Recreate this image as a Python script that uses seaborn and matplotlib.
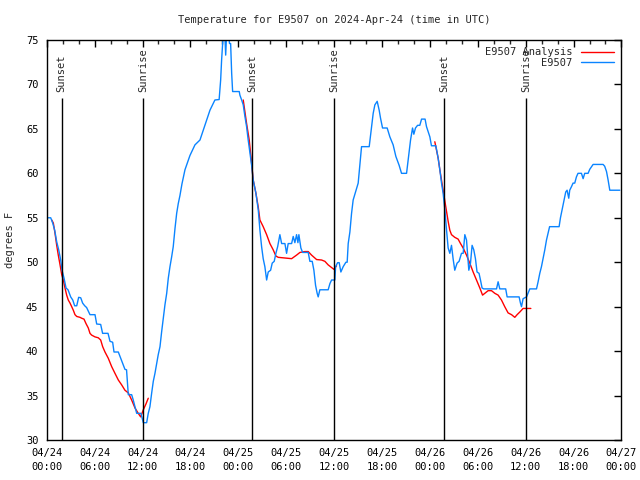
import pandas as pd
import numpy as np
import seaborn as sns
import matplotlib
matplotlib.use('Agg')
import matplotlib.pyplot as plt
import matplotlib.dates as mdates
from matplotlib.lines import Line2D

# hours since 2024-04-24 00:00 UTC, temperatures in degrees F
station_hours = [0, 0.5, 0.75, 1.0, 1.25, 1.5, 1.75, 1.92, 2.17, 2.42, 2.67, 3.0, 3.26, 3.5, 3.76, 4.0,
                 4.26, 4.5, 4.76, 5.0, 5.42, 6.05, 6.26, 6.76, 7.0, 7.68, 7.93, 8.26, 8.43, 8.97, 9.18,
                 9.52, 9.8, 10.0, 10.1, 10.22, 10.64, 10.84, 11.27, 11.8, 12.1, 12.52, 12.72, 12.93,
                 13.15, 13.35, 13.56, 13.77, 13.97, 14.19, 14.4, 14.6, 14.81, 15.03, 15.23, 15.44,
                 15.65, 15.85, 16.07, 16.28, 16.48, 16.69, 16.94, 17.32, 17.94, 18.57, 19.2, 19.82,
                 20.45, 21.07, 21.6, 21.79, 21.91, 22.04, 22.1, 22.3, 22.42, 22.55, 22.75, 22.9,
                 23.04, 23.17, 23.29, 24.12, 24.2, 24.42, 24.62, 24.83, 25.04, 25.24, 25.46, 25.67,
                 25.87, 26.21, 26.5, 26.71, 26.92, 27.12, 27.33, 27.55, 27.75, 28.05, 28.25, 28.5,
                 28.71, 28.93, 29.21, 29.43, 29.84, 30.05, 30.25, 30.68, 30.88, 31.09, 31.3, 31.47,
                 31.59, 31.84, 32.06, 32.76, 32.97, 33.26, 33.47, 33.68, 33.88, 34.01, 34.22, 35.26,
                 35.48, 35.69, 36.1, 36.19, 36.44, 36.64, 36.85, 37.14, 37.48, 37.64, 37.77, 37.98,
                 38.19, 38.39, 39.02, 39.44, 40.4, 40.7, 40.9, 41.11, 41.4, 41.65, 41.82, 42.07,
                 42.65, 42.99, 43.4, 43.74, 44.15, 44.45, 45.08, 45.28, 45.58, 45.83, 45.99, 46.2,
                 46.46, 46.74, 46.96, 47.4, 47.58, 48.0, 48.2, 48.75, 49.04, 49.25, 49.46, 49.66,
                 49.87, 50.09, 50.29, 50.5, 50.71, 50.91, 51.12, 51.41, 51.66, 51.96, 52.17, 52.38,
                 52.59, 52.72, 52.88, 53.09, 53.29, 53.5, 53.71, 53.91, 54.16, 54.34, 54.54, 54.75,
                 56.35, 56.55, 56.76, 57.5, 57.68, 59.18, 59.35, 59.48, 59.68, 60.11, 60.52, 61.36,
                 61.56, 61.77, 61.98, 62.18, 62.4, 62.61, 62.81, 63.0, 64.19, 64.36, 64.61, 64.81,
                 65.02, 65.19, 65.4, 65.52, 65.74, 65.94, 66.15, 66.36, 66.56, 66.99, 67.2, 67.4,
                 67.82, 68.03, 68.45, 69.7, 69.9, 70.13, 70.33, 70.54, 71.79]
station_temps = [55, 55, 54.4, 53.6, 52.3, 51.4, 50.25, 49.1, 48.2, 47.1, 46.9, 46.1, 45.75, 45.1, 45.1, 46.05,
                 46, 45.4, 45.1, 44.9, 44.1, 44.1, 43.05, 43, 42.0, 42, 41.1, 41, 39.9, 39.9, 39.4,
                 38.6, 37.95, 37.9, 36.6, 35.1, 35.1, 34.5, 33.0, 33, 31.95, 31.95, 33, 33.75,
                 35.3, 36.6, 37.5, 38.6, 39.6, 40.5, 42.2, 43.7, 45.2, 46.5, 48.2, 49.5,
                 50.6, 51.75, 53.8, 55.5, 56.6, 57.5, 58.8, 60.4, 62, 63.2, 63.75, 65.4,
                 67.1, 68.25, 68.3, 70.5, 72.75, 74.6, 76, 76, 73.3, 76, 76, 74.6,
                 74.6, 71.25, 69.2, 69.2, 68.8, 68.25, 67.7, 66.4, 65.25, 63.75, 62.25, 60.9,
                 59.25, 57.75, 55.9, 53.6, 51.75, 50.4, 49.5, 48.0, 48.9, 49.1, 49.9, 50.1,
                 51.0, 51.75, 53.1, 52.1, 52.1, 51.0, 52.1, 52.1, 52.9, 52.2, 53.1, 52.2,
                 53.1, 51.6, 51.1, 51.1, 50.1, 50.1, 49.1, 47.4, 46.5, 46.1, 46.9, 46.9,
                 47.6, 48.0, 48.0, 49.5, 49.95, 49.95, 48.9, 49.5, 50.0, 50.0, 52.1, 53.4,
                 55.5, 57.0, 58.9, 63.0, 63.0, 65.25, 66.75, 67.7, 68.1, 67.1, 66.2, 65.1,
                 65.1, 64.1, 63.2, 61.9, 60.9, 60.0, 60.0, 61.5, 63.75, 65.1, 64.4, 65.1,
                 65.4, 65.4, 66.1, 66.1, 65.25, 64.1, 63.1, 63.1, 61.7, 60.4, 58.9, 57.75,
                 56.0, 53.6, 51.6, 51.0, 51.9, 50.4, 49.1, 49.9, 50.1, 51.0, 51.0, 53.1,
                 52.5, 51.0, 49.1, 49.9, 51.9, 51.4, 50.4, 48.9, 48.75, 48.0, 47.1, 47.0,
                 47.0, 47.8, 47.0, 47.0, 46.1, 46.1, 45.4, 45.0, 45.9, 46.1, 47.0, 47.0,
                 47.8, 48.75, 49.5, 50.4, 51.4, 52.5, 53.25, 54.0, 54.0, 55.0, 56.1, 57.0,
                 57.9, 58.1, 57.2, 58.1, 58.5, 58.9, 58.9, 59.6, 60.0, 60.0, 59.4, 60.0,
                 60.0, 60.45, 61.0, 61.0, 60.8, 60.2, 59.25, 58.1, 58.1]

analysis1_hours = [0.63, 0.83, 1.04, 1.25, 1.45, 1.67, 1.88, 2.08, 2.29, 2.5, 2.7, 2.92, 3.13, 3.33, 3.54,
                   3.76, 4.17, 4.38, 4.67, 4.92, 5.21, 5.42, 5.63, 6.05, 6.46, 6.76, 7.01, 7.3, 7.71,
                   8.14, 8.55, 8.97, 9.39, 9.8, 10.22, 10.64, 11.06, 11.47, 11.77, 12.1, 12.43, 12.72]
analysis1_temps = [54.75, 54.4, 53.25, 51.9, 50.8, 49.7, 48.6, 48.0, 47.1, 46.3, 45.75, 45.4, 45.0, 44.6, 44.1,
                   43.9, 43.8, 43.7, 43.6, 43.1, 42.6, 42.0, 41.8, 41.6, 41.5, 41.25, 40.5, 39.9, 39.2,
                   38.25, 37.5, 36.75, 36.2, 35.6, 35.3, 34.5, 33.6, 33.0, 32.6, 33.4, 34.05, 34.7]
analysis2_hours = [24.62, 25.04, 25.37, 25.67, 25.87, 26.21, 26.5, 26.71, 27.12, 27.55, 27.96, 28.37, 28.71,
                   29.0, 30.68, 31.3, 31.72, 32.34, 32.76, 33.18, 33.81, 34.43, 34.85, 35.26, 35.69,
                   35.98, 36.31]
analysis2_temps = [68.25, 65.6, 63.75, 61.1, 59.25, 57.75, 56.2, 54.75, 54.0, 53.1, 52.1, 51.4, 50.7,
                   50.55, 50.4, 50.8, 51.1, 51.2, 51.2, 50.8, 50.3, 50.25, 50.1, 49.7, 49.4,
                   49.2, 49.6]
analysis3_hours = [48.62, 49.04, 49.25, 49.66, 50.0, 50.29, 50.5, 50.71, 51.12, 51.54, 51.84, 52.17, 52.59,
                   53.0, 53.42, 53.84, 54.26, 54.6, 54.88, 55.3, 55.72, 56.14, 56.55, 56.97, 57.38,
                   57.8, 58.23, 58.64, 58.93, 59.27, 59.68, 60.65]
analysis3_temps = [63.55, 61.7, 60.4, 58.1, 56.2, 54.6, 53.6, 53.1, 52.8, 52.6, 52.1, 51.6, 50.8,
                   49.9, 48.9, 48.0, 47.1, 46.3, 46.5, 46.8, 46.8, 46.5, 46.3, 45.75, 45.0,
                   44.3, 44.1, 43.8, 44.1, 44.4, 44.8, 44.8]

sunset_hours = [1.88, 25.75, 49.8]
sunrise_hours = [12.1, 36.0, 60.05]

start = pd.Timestamp('2024-04-24 00:00')

station = pd.DataFrame({'time': start + pd.to_timedelta(station_hours, unit='h'),
                        'temp': station_temps})
analysis = pd.concat([
    pd.DataFrame({'time': start + pd.to_timedelta(h, unit='h'), 'temp': t, 'seg': i})
    for i, (h, t) in enumerate([(analysis1_hours, analysis1_temps),
                                (analysis2_hours, analysis2_temps),
                                (analysis3_hours, analysis3_temps)])
])

sns.set_style('white')
plt.rcParams['font.family'] = ['DejaVu Sans Mono']
plt.rcParams['font.size'] = 7

fig = plt.figure(figsize=(6.4, 4.8), dpi=100)
ax = fig.add_axes([0.073, 0.0833, 0.898, 0.8334])

red = '#ff0000'
blue = '#0a84ff'
sns.lineplot(data=analysis, x='time', y='temp', units='seg', estimator=None,
             color=red, lw=1.0, ax=ax, legend=False)
sns.lineplot(data=station, x='time', y='temp', color=blue, lw=1.0, ax=ax, legend=False)

# sunrise / sunset markers
for label, hrs in [('Sunset', sunset_hours), ('Sunrise', sunrise_hours)]:
    for h in hrs:
        t = start + pd.Timedelta(hours=h)
        ax.vlines(t, 30, 68.5, color='black', lw=1.0)
        ax.text(t, 69.1, label, rotation=90, ha='center', va='bottom', fontsize=7.5)

ax.set_xlim(start, start + pd.Timedelta(hours=72))
ax.set_ylim(30, 75)
ax.set_yticks(range(30, 76, 5))
ax.xaxis.set_major_locator(mdates.HourLocator(byhour=range(0, 24, 6)))
ax.xaxis.set_minor_locator(mdates.HourLocator(byhour=range(0, 24, 2)))
ax.xaxis.set_major_formatter(mdates.DateFormatter('%m/%d\n%H:%M'))
ax.tick_params(which='major', direction='in', length=5, width=1, top=True, right=True,
               labelsize=7.5, colors='black', pad=6)
ax.tick_params(which='minor', direction='in', length=3, width=1, top=True, right=True)
for lbl in ax.get_xticklabels():
    lbl.set_linespacing(1.45)
for s in ax.spines.values():
    s.set_color('black')
    s.set_linewidth(1)
    s.set_visible(True)

ax.set_xlabel('')
ax.set_ylabel('degrees F', fontsize=7.5, labelpad=8)
ax.set_title('Temperature for E9507 on 2024-Apr-24 (time in UTC)', fontsize=7.5, pad=12)

handles = [Line2D([], [], color=red, lw=1.0), Line2D([], [], color=blue, lw=1.0)]
ax.legend(handles, ['E9507 Analysis', 'E9507'], loc='upper right', frameon=False,
          markerfirst=False, fontsize=7.5, handlelength=3.2, borderaxespad=0.3,
          labelspacing=0.05, handletextpad=0.8)

fig.savefig('out.png', dpi=100)
